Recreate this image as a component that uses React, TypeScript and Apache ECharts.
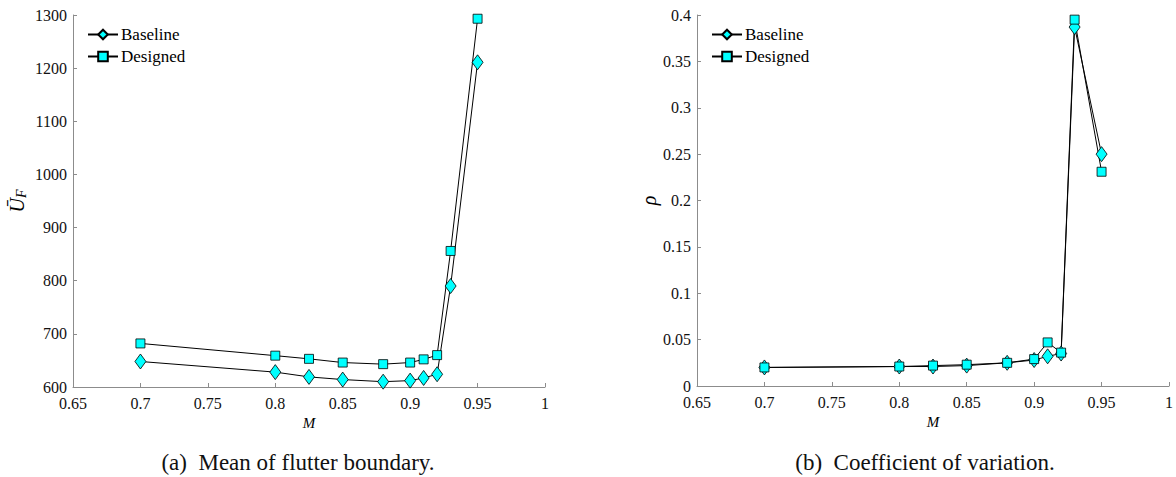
import React, { useEffect, useRef } from "react";
import * as echarts from "echarts";

const machNumbers = [0.7, 0.8, 0.825, 0.85, 0.88, 0.9, 0.91, 0.92, 0.93, 0.95];
const meanBaseline = [648, 628, 619, 614, 610, 612, 617, 624, 790, 1211];
const meanDesigned = [682, 659, 653, 646, 643, 646, 652, 660, 856, 1293];
const covBaseline = [0.02, 0.021, 0.021, 0.022, 0.025, 0.028, 0.032, 0.035, 0.387, 0.25];
const covDesigned = [0.02, 0.021, 0.022, 0.023, 0.025, 0.029, 0.047, 0.036, 0.395, 0.231];
const seriesNames = ["Baseline", "Designed"];
const captions = ["(a)  Mean of flutter boundary.", "(b)  Coefficient of variation."];

const FONT = "Liberation Serif";

const pair = (xs: number[], ys: number[]) => xs.map((x, i) => [x, ys[i]]);
const fmt = (v: number) => String(parseFloat(v.toFixed(2)));

export default function App() {
  const ref = useRef<HTMLDivElement>(null);
  useEffect(() => {
    if (!ref.current) return;
    const chart = echarts.init(ref.current, null, { renderer: "svg" });
    const xAxisBase = (gridIndex: number) => ({
      type: "value" as const,
      gridIndex,
      min: 0.65,
      max: 1,
      interval: 0.05,
      name: "M",
      nameLocation: "middle" as const,
      nameGap: 26,
      nameTextStyle: { fontFamily: FONT, fontStyle: "italic", fontSize: 15, color: "#000" },
      axisLine: { show: true, lineStyle: { color: "#8c8c8c", width: 1 } },
      axisTick: { show: true, inside: true, length: 4, lineStyle: { color: "#8c8c8c" } },
      axisLabel: { fontFamily: FONT, fontSize: 16, color: "#111", margin: 8, formatter: fmt },
      splitLine: { show: false },
    });
    const yStyle = {
      axisLine: { show: true, lineStyle: { color: "#8c8c8c", width: 1 } },
      axisTick: { show: true, inside: true, length: 4, lineStyle: { color: "#8c8c8c" } },
      splitLine: { show: false },
    };
    const lineSeries = (
      name: string,
      symbol: string,
      symbolSize: number | number[],
      data: number[][],
      idx: number
    ) => ({
      type: "line" as const,
      name,
      xAxisIndex: idx,
      yAxisIndex: idx,
      data,
      symbol,
      symbolSize,
      showAllSymbol: true,
      lineStyle: { color: "#000", width: 1 },
      itemStyle: { color: "#00ffff", borderColor: "#000", borderWidth: 0.8 },
      emphasis: { disabled: true },
    });
    const legendBase = (left: number) => ({
      orient: "vertical" as const,
      left,
      top: 21,
      itemWidth: 30,
      itemHeight: 12,
      itemGap: 5,
      data: seriesNames,
      textStyle: { fontFamily: FONT, fontSize: 17, color: "#000", padding: [0, 0, 0, -2] },
    });
    const caption = (x: number, text: string) => ({
      type: "text",
      x,
      y: 462,
      style: {
        text,
        fontFamily: FONT,
        fontSize: 23,
        fill: "#111",
        align: "center",
        verticalAlign: "middle",
      },
    });
    chart.setOption({
      animation: false,
      backgroundColor: "#fff",
      textStyle: { fontFamily: FONT },
      grid: [
        { left: 73, width: 472, top: 15, height: 372 },
        { left: 697, width: 472, top: 15, height: 371 },
      ],
      xAxis: [xAxisBase(0), xAxisBase(1)],
      yAxis: [
        {
          type: "value",
          gridIndex: 0,
          min: 600,
          max: 1300,
          interval: 100,
          name: "{u|Ū}{s|F}",
          nameLocation: "middle",
          nameRotate: 90,
          nameGap: 45,
          nameTextStyle: {
            color: "#000",
            rich: {
              u: { fontFamily: FONT, fontStyle: "italic", fontSize: 20, color: "#000" },
              s: { fontFamily: FONT, fontStyle: "italic", fontSize: 14, color: "#000", padding: [8, 0, 0, 0] },
            },
          },
          axisLabel: { fontFamily: FONT, fontSize: 16, color: "#111", margin: 6, formatter: (v: number) => String(v) },
          ...yStyle,
        },
        {
          type: "value",
          gridIndex: 1,
          min: 0,
          max: 0.4,
          interval: 0.05,
          name: "ρ",
          nameLocation: "middle",
          nameRotate: 90,
          nameGap: 38,
          nameTextStyle: { fontFamily: FONT, fontStyle: "italic", fontSize: 20, color: "#000" },
          axisLabel: { fontFamily: FONT, fontSize: 16, color: "#111", margin: 6, formatter: fmt },
          ...yStyle,
        },
      ],
      legend: [legendBase(82), legendBase(706)],
      series: [
        lineSeries(seriesNames[0], "diamond", [11, 15], pair(machNumbers, meanBaseline), 0),
        lineSeries(seriesNames[1], "rect", 9, pair(machNumbers, meanDesigned), 0),
        lineSeries(seriesNames[0], "diamond", [11, 15], pair(machNumbers, covBaseline), 1),
        lineSeries(seriesNames[1], "rect", 9, pair(machNumbers, covDesigned), 1),
      ],
      graphic: [caption(298, captions[0]), caption(925, captions[1])],
    });
    return () => chart.dispose();
  }, []);
  return <div ref={ref} style={{ width: 1176, height: 477, position: "absolute", left: 0, top: 0 }} />;
}
